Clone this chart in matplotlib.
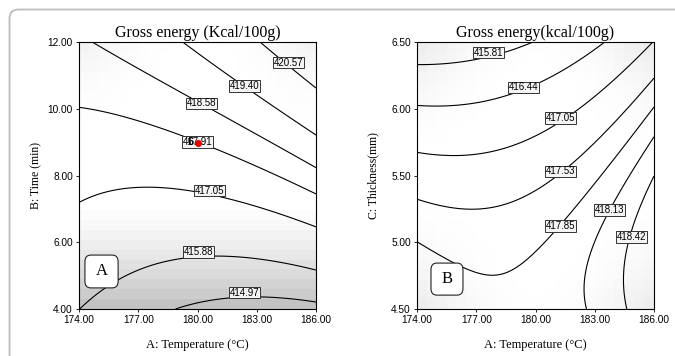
import numpy as np
import matplotlib
matplotlib.use("Agg")
import matplotlib.pyplot as plt
from matplotlib.patches import FancyBboxPatch
from matplotlib.transforms import IdentityTransform

SERIF = ['Liberation Serif', 'DejaVu Serif']
SANS = ['Liberation Sans', 'DejaVu Sans']
NARROW = ['Liberation Sans Narrow', 'Liberation Sans', 'DejaVu Sans']

# ---- Panel A: Temperature (x) vs Time (y) ----
a_title = "Gross energy (Kcal/100g)"
a_ylabel = "B: Time (min)"
a_ylim = (4.0, 12.0)
a_yticks = [4.0, 6.0, 8.0, 10.0, 12.0]
a_levels = [414.97, 415.88, 417.05, 417.91, 418.58, 419.40, 420.57]
a_label_T = [182.4, 180.03, 180.6, 180.0, 180.2, 182.4, 184.6]
a_label_y = [4.49, 5.70, 7.55, 9.01, 10.16, 10.68, 11.38]
# cubic response-surface coefficients in coded units (x=(T-180)/6, y=(t-8)/4)
# order: 1, x, y, x^2, xy, y^2, x^3, x^2y, xy^2, y^3
a_coef = [417.3359, 0.5014, 2.2873, 0.5057, 1.0855, -0.1204, 0.0382, 0.0207, -0.0145, 0.0855]
a_center_T, a_center_y, a_center_n = 180.0, 9.01, "6"

# ---- Panel B: Temperature (x) vs Thickness (y) ----
b_title = "Gross energy(kcal/100g)"
b_ylabel = "C: Thickness(mm)"
b_ylim = (4.5, 6.5)
b_yticks = [4.5, 5.0, 5.5, 6.0, 6.5]
b_levels = [415.81, 416.44, 417.05, 417.53, 417.85, 418.13, 418.42]
b_label_T = [177.6, 179.4, 181.25, 181.25, 181.25, 183.75, 184.86]
b_label_y = [6.42, 6.16, 5.93, 5.53, 5.12, 5.24, 5.04]
# coded units (x=(T-180)/6, y=(c-5.5)/1)
b_coef = [417.4158, 0.5322, -1.0760, 0.4445, 0.2692, -0.5376, 0.0244, -0.0266, -0.0039, 0.0247]

x_ticks = [174.0, 177.0, 180.0, 183.0, 186.0]
x_label = "A: Temperature (\u00b0C)"


def basis(x, y):
    return np.stack([np.ones_like(x), x, y, x * x, x * y, y * y,
                     x ** 3, x * x * y, x * y * y, y ** 3], axis=-1)


fig = plt.figure(figsize=(6.75, 3.56), dpi=100)
fig.patch.set_facecolor('white')

# rounded outer frame (top-left corner visible, continues past right/bottom)
frame = FancyBboxPatch((9.5, -30), 720, 346.5 + 30,
                       boxstyle="round,pad=0,rounding_size=9",
                       transform=IdentityTransform(), facecolor='none',
                       edgecolor='#bdbdbd', linewidth=1.3)
fig.add_artist(frame)

axA = fig.add_axes([79 / 675, 1 - 309 / 356, 237 / 675, 267 / 356])
axB = fig.add_axes([417 / 675, 1 - 309 / 356, 237 / 675, 267 / 356])


def shade_A(xc, yc):
    d = 0.25 * np.clip((-0.2 - yc) / 0.8, 0, 1) ** 1.4
    d += 0.06 * xc ** 2 * np.clip(yc, 0, 1) ** 3
    return d


def shade_B(xc, yc):
    return 0.08 * xc ** 2 * yc ** 2 + 0.02 * np.clip(np.abs(yc) - 0.7, 0, 1)


panels = [
    (axA, a_coef, 8.0, 4.0, a_ylim, a_yticks, a_levels, a_label_T, a_label_y,
     a_title, a_ylabel, shade_A, "A", (0.025, 0.079, 0.140, 0.123), -0.181),
    (axB, b_coef, 5.5, 1.0, b_ylim, b_yticks, b_levels, b_label_T, b_label_y,
     b_title, b_ylabel, shade_B, "B", (0.059, 0.052, 0.135, 0.120), -0.186),
]

for (ax, coef, yc0, ys, ylim, yticks, levels, lT, lY, title, ylabel,
     shade, tag, tagbox, ylab_x) in panels:
    coef = np.array(coef)
    # blocky background shading
    nx, ny = 24, 27
    cx = (np.arange(nx) + 0.5) / nx * 2 - 1
    cy = (np.arange(ny) + 0.5) / ny * 2 - 1
    CX, CY = np.meshgrid(cx, cy)
    D = np.clip(shade(CX, CY), 0, 1)
    ax.imshow(1 - D, cmap='gray', vmin=0, vmax=1, origin='lower',
              extent=(174, 186, ylim[0], ylim[1]), aspect='auto',
              interpolation='nearest', zorder=0)
    Tg = np.linspace(174, 186, 300)
    Yg = np.linspace(ylim[0], ylim[1], 300)
    TT, YY = np.meshgrid(Tg, Yg)
    Z = basis((TT - 180) / 6, (YY - yc0) / ys) @ coef
    ax.contour(TT, YY, Z, levels=levels, colors='k', linewidths=0.8, zorder=2)
    for lv, tx, ty in zip(levels, lT, lY):
        ax.text(tx, ty, f"{lv:.2f}", fontsize=7, family=SANS, ha='center',
                va='center', zorder=4,
                bbox=dict(boxstyle='square,pad=0.08', facecolor='#f4f4f4',
                          edgecolor='#333333', linewidth=0.7))
    ax.set_xlim(174, 186)
    ax.set_ylim(*ylim)
    ax.set_xticks(x_ticks)
    ax.set_xticklabels([f"{v:.2f}" for v in x_ticks])
    ax.set_yticks(yticks)
    ax.set_yticklabels([f"{v:.2f}" for v in yticks])
    ax.tick_params(direction='out', length=2.5, width=0.6, pad=2,
                   labelsize=7.3, colors='k')
    for lab in ax.get_xticklabels() + ax.get_yticklabels():
        lab.set_family(NARROW)
    for sp in ax.spines.values():
        sp.set_linewidth(0.8)
    ax.set_title(title, fontsize=11.5, family=SERIF, pad=3.5)
    ax.set_xlabel(x_label, fontsize=9, family=SERIF, va='top')
    ax.xaxis.set_label_coords(0.5, -0.113)
    ax.set_ylabel(ylabel, fontsize=8.5, family=SERIF, va='center')
    ax.yaxis.set_label_coords(ylab_x, 0.5)
    # panel tag
    bx, by, bw, bh = tagbox
    ax.add_patch(FancyBboxPatch((bx, by), bw, bh, transform=ax.transAxes,
                                boxstyle="round,pad=0,rounding_size=0.025",
                                facecolor='white', edgecolor='#222222',
                                linewidth=0.8, zorder=5))
    ax.text(bx + bw / 2, by + bh / 2, tag, transform=ax.transAxes,
            fontsize=12, family=SERIF, ha='center', va='center', zorder=6)

# design centre point in panel A (replicate count drawn over the label, as in the source)
axA.text(a_center_T - 0.35, a_center_y, a_center_n, fontsize=8, fontweight='bold',
         family=SANS, ha='center', va='center', zorder=7)
axA.plot([a_center_T], [a_center_y - 0.05], 'o', color='#e00000', ms=4, zorder=8)

fig.savefig("out.png", dpi=100)
